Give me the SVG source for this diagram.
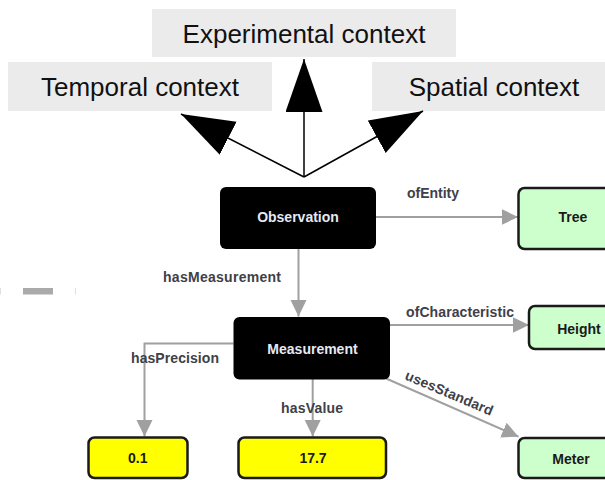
<svg xmlns="http://www.w3.org/2000/svg" width="605" height="480" viewBox="0 0 605 480">
<style>
.ctx{fill:#ebebeb}
.ctxt{font-family:"Liberation Sans",Arial,sans-serif;font-size:26px;fill:#111;text-anchor:middle}
.big{stroke:#000;stroke-width:1.5;fill:none}
.dark{fill:#000}
.green{fill:#ccffcc;stroke:#1a1a1a;stroke-width:2.5}
.yellow{fill:#ffff00;stroke:#1a1a1a;stroke-width:2.5}
.ntxt{font-family:"Liberation Sans",Arial,sans-serif;font-size:14px;font-weight:bold;text-anchor:middle}
.wt{fill:#e4eaf4}
.bt{fill:#1a1a1a}
.edge{stroke:#a0a0a0;stroke-width:2;fill:none}
.lbl{font-family:"Liberation Sans",Arial,sans-serif;font-size:14px;font-weight:bold;fill:#404048}
</style>
<defs>
<marker id="bigHead" markerUnits="userSpaceOnUse" markerWidth="54" markerHeight="38" refX="53" refY="18.5" orient="auto" viewBox="0 0 54 38">
<path d="M0,0 L53,18.5 L0,37 z" fill="#000"/>
</marker>
<marker id="grayHead" markerUnits="userSpaceOnUse" markerWidth="17" markerHeight="17" refX="16.5" refY="8" orient="auto" viewBox="0 0 17 17">
<path d="M0,0 L16.5,8 L0,16 z" fill="#a0a0a0"/>
</marker>
</defs>

<g id="experimental-context">
<rect class="ctx" x="152" y="9" width="304" height="48"/>
<text class="ctxt" x="304" y="43">Experimental context</text>
</g>
<g id="temporal-context">
<rect class="ctx" x="8" y="62" width="264" height="49"/>
<text class="ctxt" x="140" y="96">Temporal context</text>
</g>
<g id="spatial-context">
<rect class="ctx" x="372" y="62" width="240" height="49"/>
<text class="ctxt" x="494" y="96">Spatial context</text>
</g>

<g id="decoration">
<rect x="23" y="288" width="30" height="6.5" fill="#aaaaaa"/>
<rect x="0" y="288" width="1" height="6.5" fill="#e0e0e0"/>
<rect x="75" y="288" width="1" height="6.5" fill="#e0e0e0"/>
</g>

<g id="connectors">
<line class="big" x1="304" y1="177" x2="304" y2="59" marker-end="url(#bigHead)"/>
<line class="big" x1="304" y1="177" x2="181" y2="114" marker-end="url(#bigHead)"/>
<line class="big" x1="304" y1="177" x2="423" y2="111" marker-end="url(#bigHead)"/>

<line class="edge" x1="376" y1="217" x2="518" y2="217" marker-end="url(#grayHead)"/>
<text class="lbl" x="407" y="198" textLength="52" lengthAdjust="spacing">ofEntity</text>

<line class="edge" x1="298.5" y1="249" x2="298.5" y2="316.5" marker-end="url(#grayHead)"/>
<text class="lbl" x="163" y="282" textLength="118" lengthAdjust="spacing">hasMeasurement</text>

<line class="edge" x1="390" y1="325" x2="529" y2="325" marker-end="url(#grayHead)"/>
<text class="lbl" x="406" y="317" textLength="108" lengthAdjust="spacing">ofCharacteristic</text>

<polyline class="edge" points="233.5,343.5 144.5,343.5 144.5,436.5" marker-end="url(#grayHead)"/>
<text class="lbl" x="131" y="363" textLength="88" lengthAdjust="spacing">hasPrecision</text>

<line class="edge" x1="312.7" y1="379" x2="312.7" y2="436.5" marker-end="url(#grayHead)"/>
<text class="lbl" x="281" y="413" textLength="62" lengthAdjust="spacing">hasValue</text>

<line class="edge" x1="385" y1="378" x2="518.5" y2="436.7" marker-end="url(#grayHead)"/>
<text class="lbl" transform="translate(404,379) rotate(23)" textLength="94" lengthAdjust="spacing">usesStandard</text>
</g>

<g id="observation">
<rect class="dark" x="220" y="187" width="156" height="62" rx="6"/>
<text class="ntxt wt" x="298" y="222">Observation</text>
</g>
<g id="tree">
<rect class="green" x="518.5" y="188" width="110" height="61" rx="6"/>
<text class="ntxt bt" x="573" y="222">Tree</text>
</g>
<g id="measurement">
<rect class="dark" x="233.5" y="317" width="156.5" height="62.5" rx="6"/>
<text class="ntxt wt" x="312.5" y="354">Measurement</text>
</g>
<g id="height">
<rect class="green" x="529" y="306" width="100" height="43" rx="6"/>
<text class="ntxt bt" x="579" y="333.5">Height</text>
</g>
<g id="meter">
<rect class="green" x="518.5" y="438" width="110" height="40" rx="6"/>
<text class="ntxt bt" x="571" y="463.5">Meter</text>
</g>
<g id="precision-value">
<rect class="yellow" x="88.5" y="437.5" width="99" height="40.5" rx="6"/>
<text class="ntxt bt" x="137.7" y="463">0.1</text>
</g>
<g id="measured-value">
<rect class="yellow" x="238.5" y="437.5" width="147.5" height="40.5" rx="6"/>
<text class="ntxt bt" x="313" y="463">17.7</text>
</g>
</svg>
